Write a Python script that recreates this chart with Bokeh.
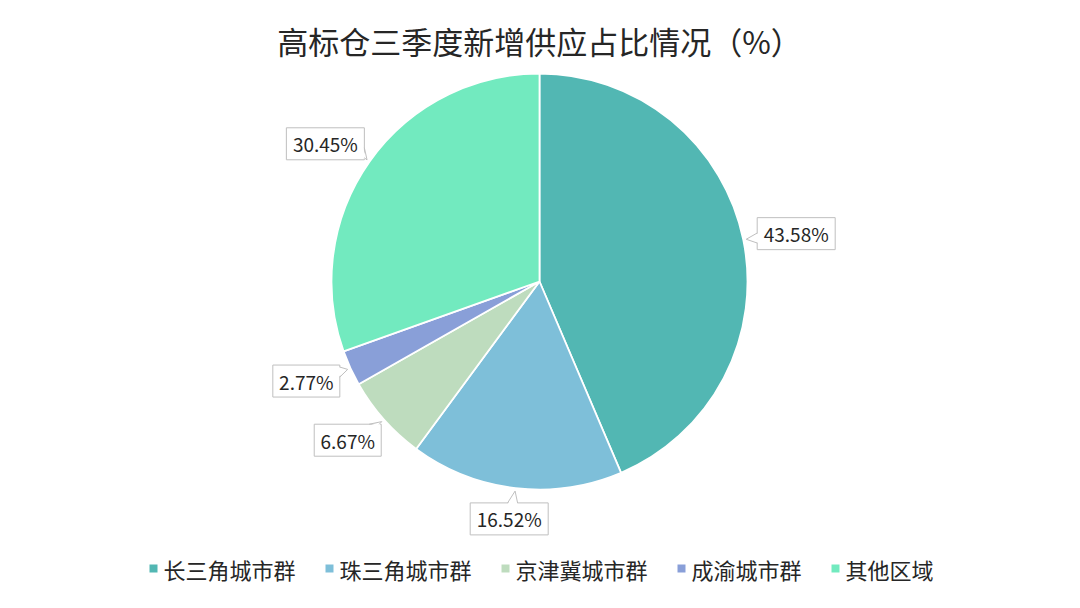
import math
from bokeh.plotting import figure
from bokeh.models import Range1d, ColumnDataSource
from bokeh.core.properties import value
from bokeh.embed import file_html
from bokeh.resources import INLINE

# ---------------- data ----------------
title = "高标仓三季度新增供应占比情况（%）"
categories = ["长三角城市群", "珠三角城市群", "京津冀城市群", "成渝城市群", "其他区域"]
shares = [43.58, 16.52, 6.67, 2.77, 30.45]
colors = ["#52b7b3", "#7ebfd9", "#bedcbe", "#899fd8", "#72eabf"]

# ---------------- layout ----------------
W, H = 1064, 592
CX, CY = 539, 281          # pie centre in screenshot pixels
R = 208
FONT = value("Noto Sans CJK SC")

def py(page_y):
    return CY - page_y

p = figure(width=W, height=H, output_backend="svg", toolbar_location=None,
           x_range=Range1d(-CX, W - CX), y_range=Range1d(CY - H, CY),
           min_border=0)
p.axis.visible = False
p.grid.visible = False
p.outline_line_color = None
p.background_fill_color = "white"
p.border_fill_color = "white"

# ---------------- pie ----------------
total = sum(shares)
starts, ends, mids = [], [], []
cum = 0.0
for s in shares:
    a0 = math.pi / 2 - 2 * math.pi * cum / total
    cum += s
    a1 = math.pi / 2 - 2 * math.pi * cum / total
    starts.append(a0)
    ends.append(a1)
    mids.append((a0 + a1) / 2)

src = ColumnDataSource(dict(start=starts, end=ends, color=colors, cat=categories))
p.wedge(x=0, y=0, radius=R, start_angle="start", end_angle="end", direction="clock",
        fill_color="color", line_color="white", line_width=1.8, source=src)

# ---------------- callout labels ----------------
labels = [f"{s:.2f}%" for s in shares]
bx, by, bw, bh = [], [], [], []
tri_xs, tri_ys, side_xs, side_ys = [], [], [], []
for lab, a in zip(labels, mids):
    w = 11 * len(lab) + 12
    h = 32
    ca, sa = math.cos(a), math.sin(a)
    ax, ay = (R + 15) * ca, (R + 15) * sa
    cx, cy = ax + w / 2 * ca, ay + h / 2 * sa
    bx.append(cx); by.append(cy); bw.append(w); bh.append(h)
    tx, ty = (R + 3) * ca, (R + 3) * sa
    dx, dy = tx - cx, ty - cy
    t = min((w / 2) / abs(dx) if dx else 1e9, (h / 2) / abs(dy) if dy else 1e9)
    px, pyy = cx + t * dx, cy + t * dy
    if (w / 2) / abs(dx if dx else 1e-9) < (h / 2) / abs(dy if dy else 1e-9):
        px = cx + math.copysign(w / 2, dx)
        pyy = max(min(pyy, cy + h / 2 - 7), cy - h / 2 + 7)
        b1, b2 = (px, pyy - 5), (px, pyy + 5)
        inx = -math.copysign(1.5, dx)
        f1, f2 = (px + inx, pyy - 5), (px + inx, pyy + 5)
    else:
        pyy = cy + math.copysign(h / 2, dy)
        px = max(min(px, cx + w / 2 - 7), cx - w / 2 + 7)
        b1, b2 = (px - 5, pyy), (px + 5, pyy)
        iny = -math.copysign(1.5, dy)
        f1, f2 = (px - 5, pyy + iny), (px + 5, pyy + iny)
    tri_xs.append([f1[0], tx, f2[0]]); tri_ys.append([f1[1], ty, f2[1]])
    side_xs.append([b1[0], tx, b2[0]]); side_ys.append([b1[1], ty, b2[1]])

p.rect(x=bx, y=by, width=bw, height=bh, fill_color="white", line_color="#bfbfbf", line_width=1)
p.patches(xs=tri_xs, ys=tri_ys, fill_color="white", line_color=None)
p.multi_line(xs=side_xs, ys=side_ys, line_color="#bfbfbf", line_width=1)
p.text(x=bx, y=by, text=labels, text_align="center", text_baseline="middle",
       text_font=FONT, text_font_size="19px", text_color="#262626")

# ---------------- title ----------------
p.text(x=[0], y=[py(40)], text=[title], text_align="center", text_baseline="middle",
       text_font=FONT, text_font_size="31px", text_color="#262626")

# ---------------- legend ----------------
char_w, sq_gap, item_gap, sq = 22, 12, 32, 8
widths = [sq_gap + char_w * len(c) for c in categories]
total_w = sum(widths) + item_gap * (len(categories) - 1)
x0 = (542 - CX) - total_w / 2
sq_x, txt_x = [], []
for w in widths:
    sq_x.append(x0 + 2)
    txt_x.append(x0 + sq_gap)
    x0 += w + item_gap
ly = py(568)
p.rect(x=sq_x, y=[ly] * len(categories), width=sq, height=sq, fill_color=colors, line_color=None)
p.text(x=txt_x, y=[ly] * len(categories), text=categories, text_align="left",
       text_baseline="middle", text_font=FONT, text_font_size="22px", text_color="#262626")

open("out.html", "w").write(file_html(p, INLINE))
